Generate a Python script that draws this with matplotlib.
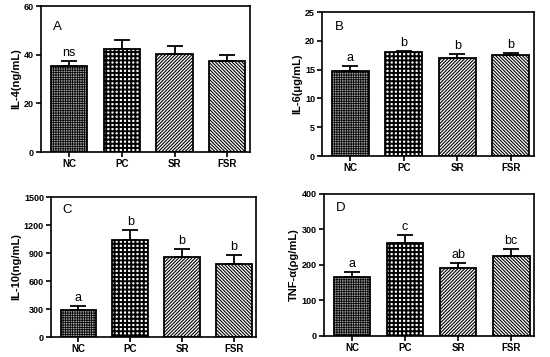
import matplotlib
matplotlib.use("Agg")
import matplotlib.pyplot as plt
import numpy as np

plt.rcParams['font.family'] = ['Liberation Sans', 'DejaVu Sans']
plt.rcParams['hatch.linewidth'] = 1.0

categories = ["NC", "PC", "SR", "FSR"]

il4_mean = [35.3, 42.2, 40.1, 37.4]
il4_err = [2.1, 3.8, 3.4, 2.3]
il4_sig = ["ns", "", "", ""]

il6_mean = [14.7, 18.0, 17.1, 17.6]
il6_err = [1.0, 0.2, 0.6, 0.25]
il6_sig = ["a", "b", "b", "b"]

il10_mean = [289, 1039, 857, 786]
il10_err = [47, 104, 82, 89]
il10_sig = ["a", "b", "b", "b"]

tnf_mean = [166, 262, 191, 225]
tnf_err = [15, 21, 15, 19]
tnf_sig = ["a", "c", "ab", "bc"]

panels = [
    dict(mean=il4_mean, err=il4_err, sig=il4_sig, letter="A", ylabel="IL-4(ng/mL)",
         yticks=[0, 20, 40, 60], rect=[0.0745, 0.574, 0.380, 0.409], ly=0.86),
    dict(mean=il6_mean, err=il6_err, sig=il6_sig, letter="B", ylabel="IL-6(\u03bcg/mL)",
         yticks=[0, 5, 10, 15, 20, 25], rect=[0.5855, 0.563, 0.385, 0.403], ly=0.90),
    dict(mean=il10_mean, err=il10_err, sig=il10_sig, letter="C", ylabel="IL-10(ng/mL)",
         yticks=[0, 300, 600, 900, 1200, 1500], rect=[0.0927, 0.056, 0.373, 0.392], ly=0.91),
    dict(mean=tnf_mean, err=tnf_err, sig=tnf_sig, letter="D", ylabel="TNF-\u03b1(\u03c1g/mL)",
         yticks=[0, 100, 200, 300, 400], rect=[0.589, 0.059, 0.382, 0.398], ly=0.90),
]

styles = [
    dict(facecolor="#a0a0a0", hatch="+" * 7, hlw=0.55),
    dict(facecolor="white", hatch="++++", hlw=1.4),
    dict(facecolor="white", hatch="/" * 10, hlw=0.8),
    dict(facecolor="white", hatch="\\" * 10, hlw=0.8),
]

fig = plt.figure(figsize=(5.5, 3.57), dpi=100)
x = np.arange(len(categories))

for p in panels:
    ax = fig.add_axes(p["rect"])
    bars = ax.bar(x, p["mean"], width=0.69, edgecolor="black", linewidth=1.3, zorder=2)
    for b, st in zip(bars, styles):
        b.set_facecolor(st["facecolor"])
        b.set_hatch(st["hatch"])
        if hasattr(b, "set_hatch_linewidth"):
            b.set_hatch_linewidth(st["hlw"])
    ax.errorbar(x, p["mean"], yerr=[np.zeros(len(x)), p["err"]], fmt="none",
                ecolor="black", elinewidth=1.3, capsize=6, capthick=1.3, zorder=3)
    for xi, m, e, s in zip(x, p["mean"], p["err"], p["sig"]):
        if s:
            ax.annotate(s, (xi, m + e), xytext=(0, 1.5), textcoords="offset points",
                        ha="center", va="bottom", fontsize=9)
    ax.set_xlim(-0.53, 3.43)
    ax.set_ylim(p["yticks"][0], p["yticks"][-1])
    ax.set_yticks(p["yticks"])
    ax.set_xticks(x)
    ax.set_xticklabels(categories, fontweight="bold", fontsize=7)
    for lab in ax.get_yticklabels():
        lab.set_fontweight("bold")
        lab.set_fontsize(6.5)
    ax.tick_params(axis="both", direction="out", length=3.5, width=1.2, pad=1.5)
    for sp in ax.spines.values():
        sp.set_linewidth(1.2)
    ax.set_ylabel(p["ylabel"], fontweight="bold", fontsize=8, labelpad=2)
    ax.text(0.08, p["ly"], p["letter"], transform=ax.transAxes, fontsize=9.5,
            ha="center", va="center")

fig.savefig("out.png", dpi=100)
